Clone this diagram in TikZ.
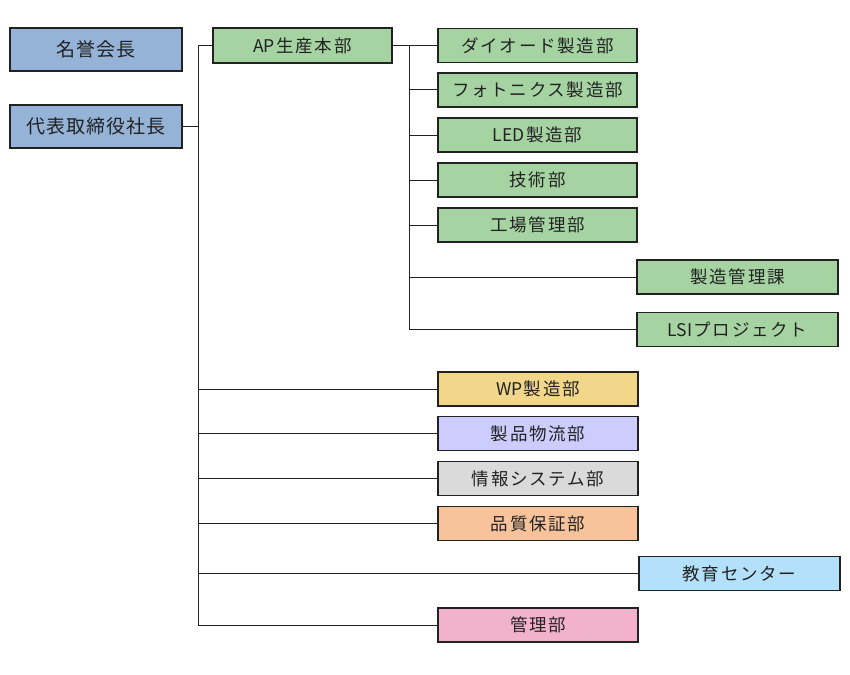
\documentclass[tikz,border=0pt]{standalone}
\usepackage{fontspec}
\newfontfamily\jpbig[LetterSpace=6]{Noto Sans CJK JP}
\newfontfamily\jp[LetterSpace=10]{Noto Sans CJK JP}
\newfontfamily\jpl{Noto Sans CJK JP}
\newcommand{\lat}[1]{{\jpl #1}\hspace{1.5pt}}
\definecolor{cblue}{HTML}{95B3D7}
\definecolor{cgreen}{HTML}{A5D4A2}
\definecolor{cyellow}{HTML}{F2D68A}
\definecolor{cpurple}{HTML}{CCCCFF}
\definecolor{cgray}{HTML}{DADADA}
\definecolor{corange}{HTML}{F8C39B}
\definecolor{clblue}{HTML}{B3E0FA}
\definecolor{cpink}{HTML}{F2B2CB}
\definecolor{ink}{HTML}{222222}
\tikzset{
  box/.style={draw=ink, line width=1.1pt, rectangle, inner sep=0pt, text=ink},
  topbox/.style={box, fill=cblue, minimum width=172pt, minimum height=43pt, font=\jpbig\fontsize{19}{22}\selectfont},
  dept/.style={box, minimum width=200pt, minimum height=34pt, font=\jp\fontsize{17.5}{20}\selectfont},
  conn/.style={draw=ink, line width=1pt}
}
\begin{document}
\begin{tikzpicture}[x=1pt,y=-1pt]
\useasboundingbox (0,0) rectangle (850,674);
\node[topbox] (meiyo) at (96,49.5) {名誉会長};
\node[topbox] (shacho) at (96,126.5) {代表取締役社長};
\node[dept, fill=cgreen, minimum width=179pt, minimum height=35pt] (ap) at (302.5,45.5) {\lat{AP}生産本部};
\node[dept, fill=cgreen, minimum width=199pt] (dio) at (537.5,45.5) {ダイオード製造部};
\node[dept, fill=cgreen, minimum width=199pt] (photo) at (537.5,90) {フォトニクス製造部};
\node[dept, fill=cgreen, minimum width=199pt] (led) at (537.5,135) {\lat{LED}製造部};
\node[dept, fill=cgreen, minimum width=199pt] (gijutsu) at (537.5,180) {技術部};
\node[dept, fill=cgreen, minimum width=199pt] (kojo) at (537.5,225) {工場管理部};
\node[dept, fill=cgreen, minimum width=201pt] (seikan) at (737.5,277) {製造管理課};
\node[dept, fill=cgreen, minimum width=201pt] (lsi) at (737.5,329.5) {\lat{LSI}プロジェクト};
\node[dept, fill=cyellow] (wp) at (538,389) {\lat{WP}製造部};
\node[dept, fill=cpurple] (butsu) at (538,433.5) {製品物流部};
\node[dept, fill=cgray] (joho) at (538,478.5) {情報システム部};
\node[dept, fill=corange] (hin) at (538,523.5) {品質保証部};
\node[dept, fill=clblue, minimum width=201pt] (kyoiku) at (739.5,573.5) {教育センター};
\node[dept, fill=cpink] (kanri) at (538,625) {管理部};
\coordinate (t0) at (198,45);
\coordinate (b0) at (409,45);
\draw[conn] (shacho.east) -- (shacho.east -| t0);
\draw[conn] (ap.west) -- (ap.west -| t0) -- (kanri.west -| t0) -- (kanri.west);
\foreach \n in {wp,butsu,joho,hin,kyoiku} \draw[conn] (\n.west -| t0) -- (\n.west);
\draw[conn] (ap.east) -- (dio.west);
\draw[conn] (ap.east -| b0) -- (lsi.west -| b0) -- (lsi.west);
\foreach \n in {photo,led,gijutsu,kojo,seikan} \draw[conn] (\n.west -| b0) -- (\n.west);
\end{tikzpicture}
\end{document}
